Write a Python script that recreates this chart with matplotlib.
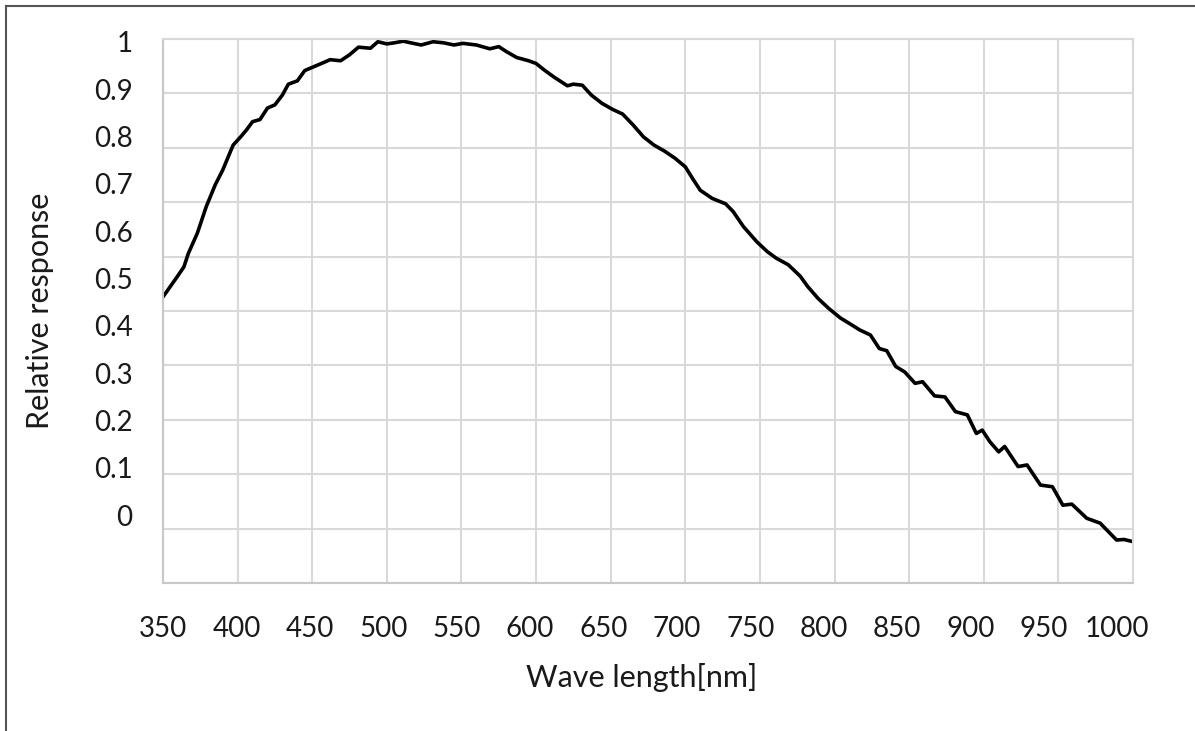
import numpy as np
import matplotlib
matplotlib.use('Agg')
import matplotlib.pyplot as plt
from matplotlib.lines import Line2D

# Lato is the closest installed face to the Calibri look of the original
plt.rcParams['font.family'] = ['Lato', 'DejaVu Sans']

# curve (nm, relative response on the grid scale 0..1)
wavelength = [350, 359, 364, 367, 373, 379, 385, 390, 397, 402, 406, 410, 415, 420,
              425, 430, 434, 440, 445, 451, 457, 462, 469, 475, 481, 489, 494, 500,
              505, 511, 516, 523, 531, 538, 545, 551, 560, 569, 575, 580, 587, 595,
              600, 605, 612, 621, 625, 631, 637, 644, 651, 658, 665, 672, 679, 686,
              693, 700, 705, 710, 718, 727, 732, 739, 748, 755, 761, 769, 777, 782,
              789, 796, 804, 810, 817, 824, 830, 835, 841, 847, 854, 859, 867, 874,
              881, 889, 895, 899, 904, 910, 914, 923, 929, 938, 946, 953, 959, 969,
              978, 989, 994, 1000]
response = [0.526, 0.561, 0.581, 0.606, 0.643, 0.692, 0.732, 0.759, 0.805, 0.820, 0.833,
            0.848, 0.852, 0.873, 0.879, 0.897, 0.917, 0.923, 0.942, 0.949, 0.956, 0.962,
            0.960, 0.971, 0.985, 0.983, 0.995, 0.991, 0.993, 0.996, 0.993, 0.989, 0.995,
            0.993, 0.989, 0.992, 0.989, 0.982, 0.986, 0.977, 0.966, 0.960, 0.955, 0.944,
            0.930, 0.914, 0.917, 0.915, 0.897, 0.882, 0.871, 0.862, 0.842, 0.820, 0.805,
            0.794, 0.781, 0.765, 0.743, 0.722, 0.707, 0.697, 0.683, 0.655, 0.627, 0.609,
            0.597, 0.585, 0.564, 0.545, 0.523, 0.505, 0.487, 0.477, 0.465, 0.456, 0.431,
            0.427, 0.398, 0.388, 0.367, 0.370, 0.344, 0.342, 0.315, 0.309, 0.275, 0.281,
            0.260, 0.241, 0.251, 0.214, 0.217, 0.180, 0.177, 0.143, 0.145, 0.119, 0.110,
            0.079, 0.080, 0.076]

x_ticks = list(range(350, 1001, 50))
y_tick_vals = [1, 0.9, 0.8, 0.7, 0.6, 0.5, 0.4, 0.3, 0.2, 0.1, 0]
y_tick_labels = ['1', '0.9', '0.8', '0.7', '0.6', '0.5', '0.4', '0.3', '0.2', '0.1', '0']

W, H = 1195, 731
fig = plt.figure(figsize=(W / 100, H / 100), dpi=100)
ax = fig.add_axes([163 / W, 1 - 583 / H, (1133 - 163) / W, (583 - 39) / H])

ax.plot(wavelength, response, color='black', lw=2.6, solid_joinstyle='round',
        solid_capstyle='round')
ax.set_xlim(350, 1000)
ax.set_ylim(0, 1)
ax.set_xticks(x_ticks)
ax.set_yticks(np.arange(0, 1.01, 0.1))
ax.grid(color='#d9d9d9', lw=1.5)
ax.set_axisbelow(True)
ax.tick_params(length=0, labelleft=False, labelbottom=False)
for s in ax.spines.values():
    s.set_color('#d9d9d9')
    s.set_linewidth(1.5)
ax.spines['bottom'].set_color('#c8c8c8')
ax.spines['left'].set_color('#c8c8c8')

# the printed tick labels are a bit squeezed compared to the grid,
# so they sit on their own secondary axes
def grid_to_ylab(v):
    return (544 * v - 68) / 473

def ylab_to_grid(l):
    return (473 * l + 68) / 544

def grid_to_xlab(d):
    return 350 + (d - 350) * 74.6 / 73.4

def xlab_to_grid(l):
    return 350 + (l - 350) * 73.4 / 74.6

sy = ax.secondary_yaxis('left', functions=(grid_to_ylab, ylab_to_grid))
sy.set_yticks(y_tick_vals, labels=y_tick_labels)
sy.tick_params(length=0, pad=22, labelsize=20, labelcolor='#1a1a1a')
sy.spines['left'].set_visible(False)

sx = ax.secondary_xaxis('bottom', functions=(grid_to_xlab, xlab_to_grid))
sx.set_xticks(x_ticks, labels=[str(t) for t in x_ticks])
sx.tick_params(length=0, pad=24, labelsize=20, labelcolor='#1a1a1a')
sx.spines['bottom'].set_visible(False)

fig.text(642 / W, 1 - 678 / H, 'Wave length[nm]', ha='center', va='center',
         fontsize=22, color='#1a1a1a')
fig.text(40 / W, 1 - 311 / H, 'Relative response', ha='center', va='center',
         rotation=90, fontsize=22, color='#1a1a1a')

# outer frame of the original picture (only top and left edges are in view)
fig.add_artist(Line2D([6.5 / W, 1], [1 - 5.5 / H, 1 - 5.5 / H], color='#555555', lw=1.5))
fig.add_artist(Line2D([6.5 / W, 6.5 / W], [0, 1 - 5.5 / H], color='#555555', lw=1.5))

fig.savefig('out.png', dpi=100)
